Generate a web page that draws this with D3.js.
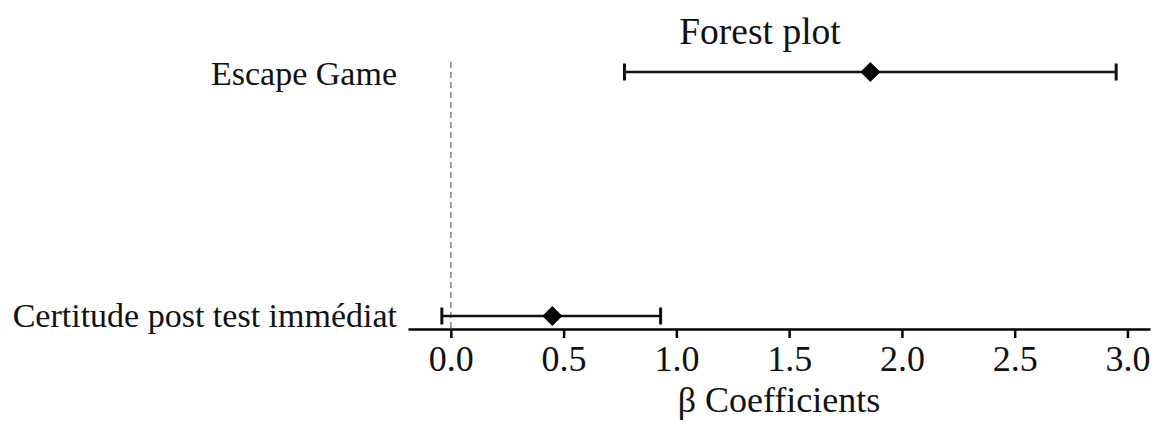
<!DOCTYPE html>
<html>
<head>
<meta charset="utf-8">
<script src="https://cdn.jsdelivr.net/npm/d3@7"></script>
<style>
  html, body { margin: 0; padding: 0; background: #fff; }
  svg { display: block; font-family: "Liberation Serif", "Times New Roman", serif; }
</style>
</head>
<body>
<svg id="chart" width="1156" height="426"></svg>
<script>
const categories = ["Escape Game", "Certitude post test immédiat"];
const estimates = [1.86, 0.45];
const lowerCI = [0.77, -0.04];
const upperCI = [2.95, 0.93];
const xTicks = [0.0, 0.5, 1.0, 1.5, 2.0, 2.5, 3.0];
const titleText = "Forest plot";
const xLabelText = "β Coefficients";

const svg = d3.select("#chart");

const x = d3.scaleLinear().domain([-0.19, 3.1]).range([408, 1150]);
const y = d3.scalePoint().domain(categories).range([72, 316]);
const axisY = 329;

// reference line at 0
svg.append("line")
  .attr("x1", x(0)).attr("x2", x(0))
  .attr("y1", 62).attr("y2", axisY)
  .attr("stroke", "#8a8a8a").attr("stroke-width", 1.6)
  .attr("stroke-dasharray", "6,4");

// x axis
const xAxis = d3.axisBottom(x)
  .tickValues(xTicks)
  .tickFormat(d3.format(".1f"))
  .tickSizeInner(9).tickSizeOuter(0).tickPadding(7);
const gx = svg.append("g").attr("transform", `translate(0,${axisY})`).call(xAxis);
gx.select(".domain").attr("stroke", "#000").attr("stroke-width", 2.5);
gx.selectAll(".tick line").attr("stroke", "#000").attr("stroke-width", 2.5);
gx.selectAll(".tick text")
  .attr("fill", "#111")
  .style("font-family", "'Liberation Serif', serif")
  .style("font-size", "36px");

// data rows
const rows = categories.map((c, i) => ({ c, est: estimates[i], lo: lowerCI[i], hi: upperCI[i] }));
const capH = 8.5;
const g = svg.append("g");
rows.forEach(r => {
  const yy = y(r.c);
  g.append("line").attr("x1", x(r.lo)).attr("x2", x(r.hi)).attr("y1", yy).attr("y2", yy)
    .attr("stroke", "#111").attr("stroke-width", 2.5);
  [r.lo, r.hi].forEach(v => {
    g.append("line").attr("x1", x(v)).attr("x2", x(v)).attr("y1", yy - capH).attr("y2", yy + capH)
      .attr("stroke", "#111").attr("stroke-width", 3);
  });
  const s = 10;
  g.append("path")
    .attr("d", `M${x(r.est)},${yy - s}L${x(r.est) + s},${yy}L${x(r.est)},${yy + s}L${x(r.est) - s},${yy}Z`)
    .attr("fill", "#000");
  g.append("text")
    .attr("x", 397).attr("y", yy).attr("dy", r.c === categories[0] ? "0.38em" : "0.33em")
    .attr("text-anchor", "end")
    .style("font-size", "34px").attr("fill", "#111")
    .text(r.c);
});

// title
svg.append("text").attr("x", 760).attr("y", 44).attr("text-anchor", "middle")
  .style("font-size", "37.5px").attr("fill", "#111").text(titleText);

// x label
svg.append("text").attr("x", 779).attr("y", 412).attr("text-anchor", "middle")
  .style("font-size", "36px").attr("fill", "#111").text(xLabelText);
</script>
</body>
</html>
